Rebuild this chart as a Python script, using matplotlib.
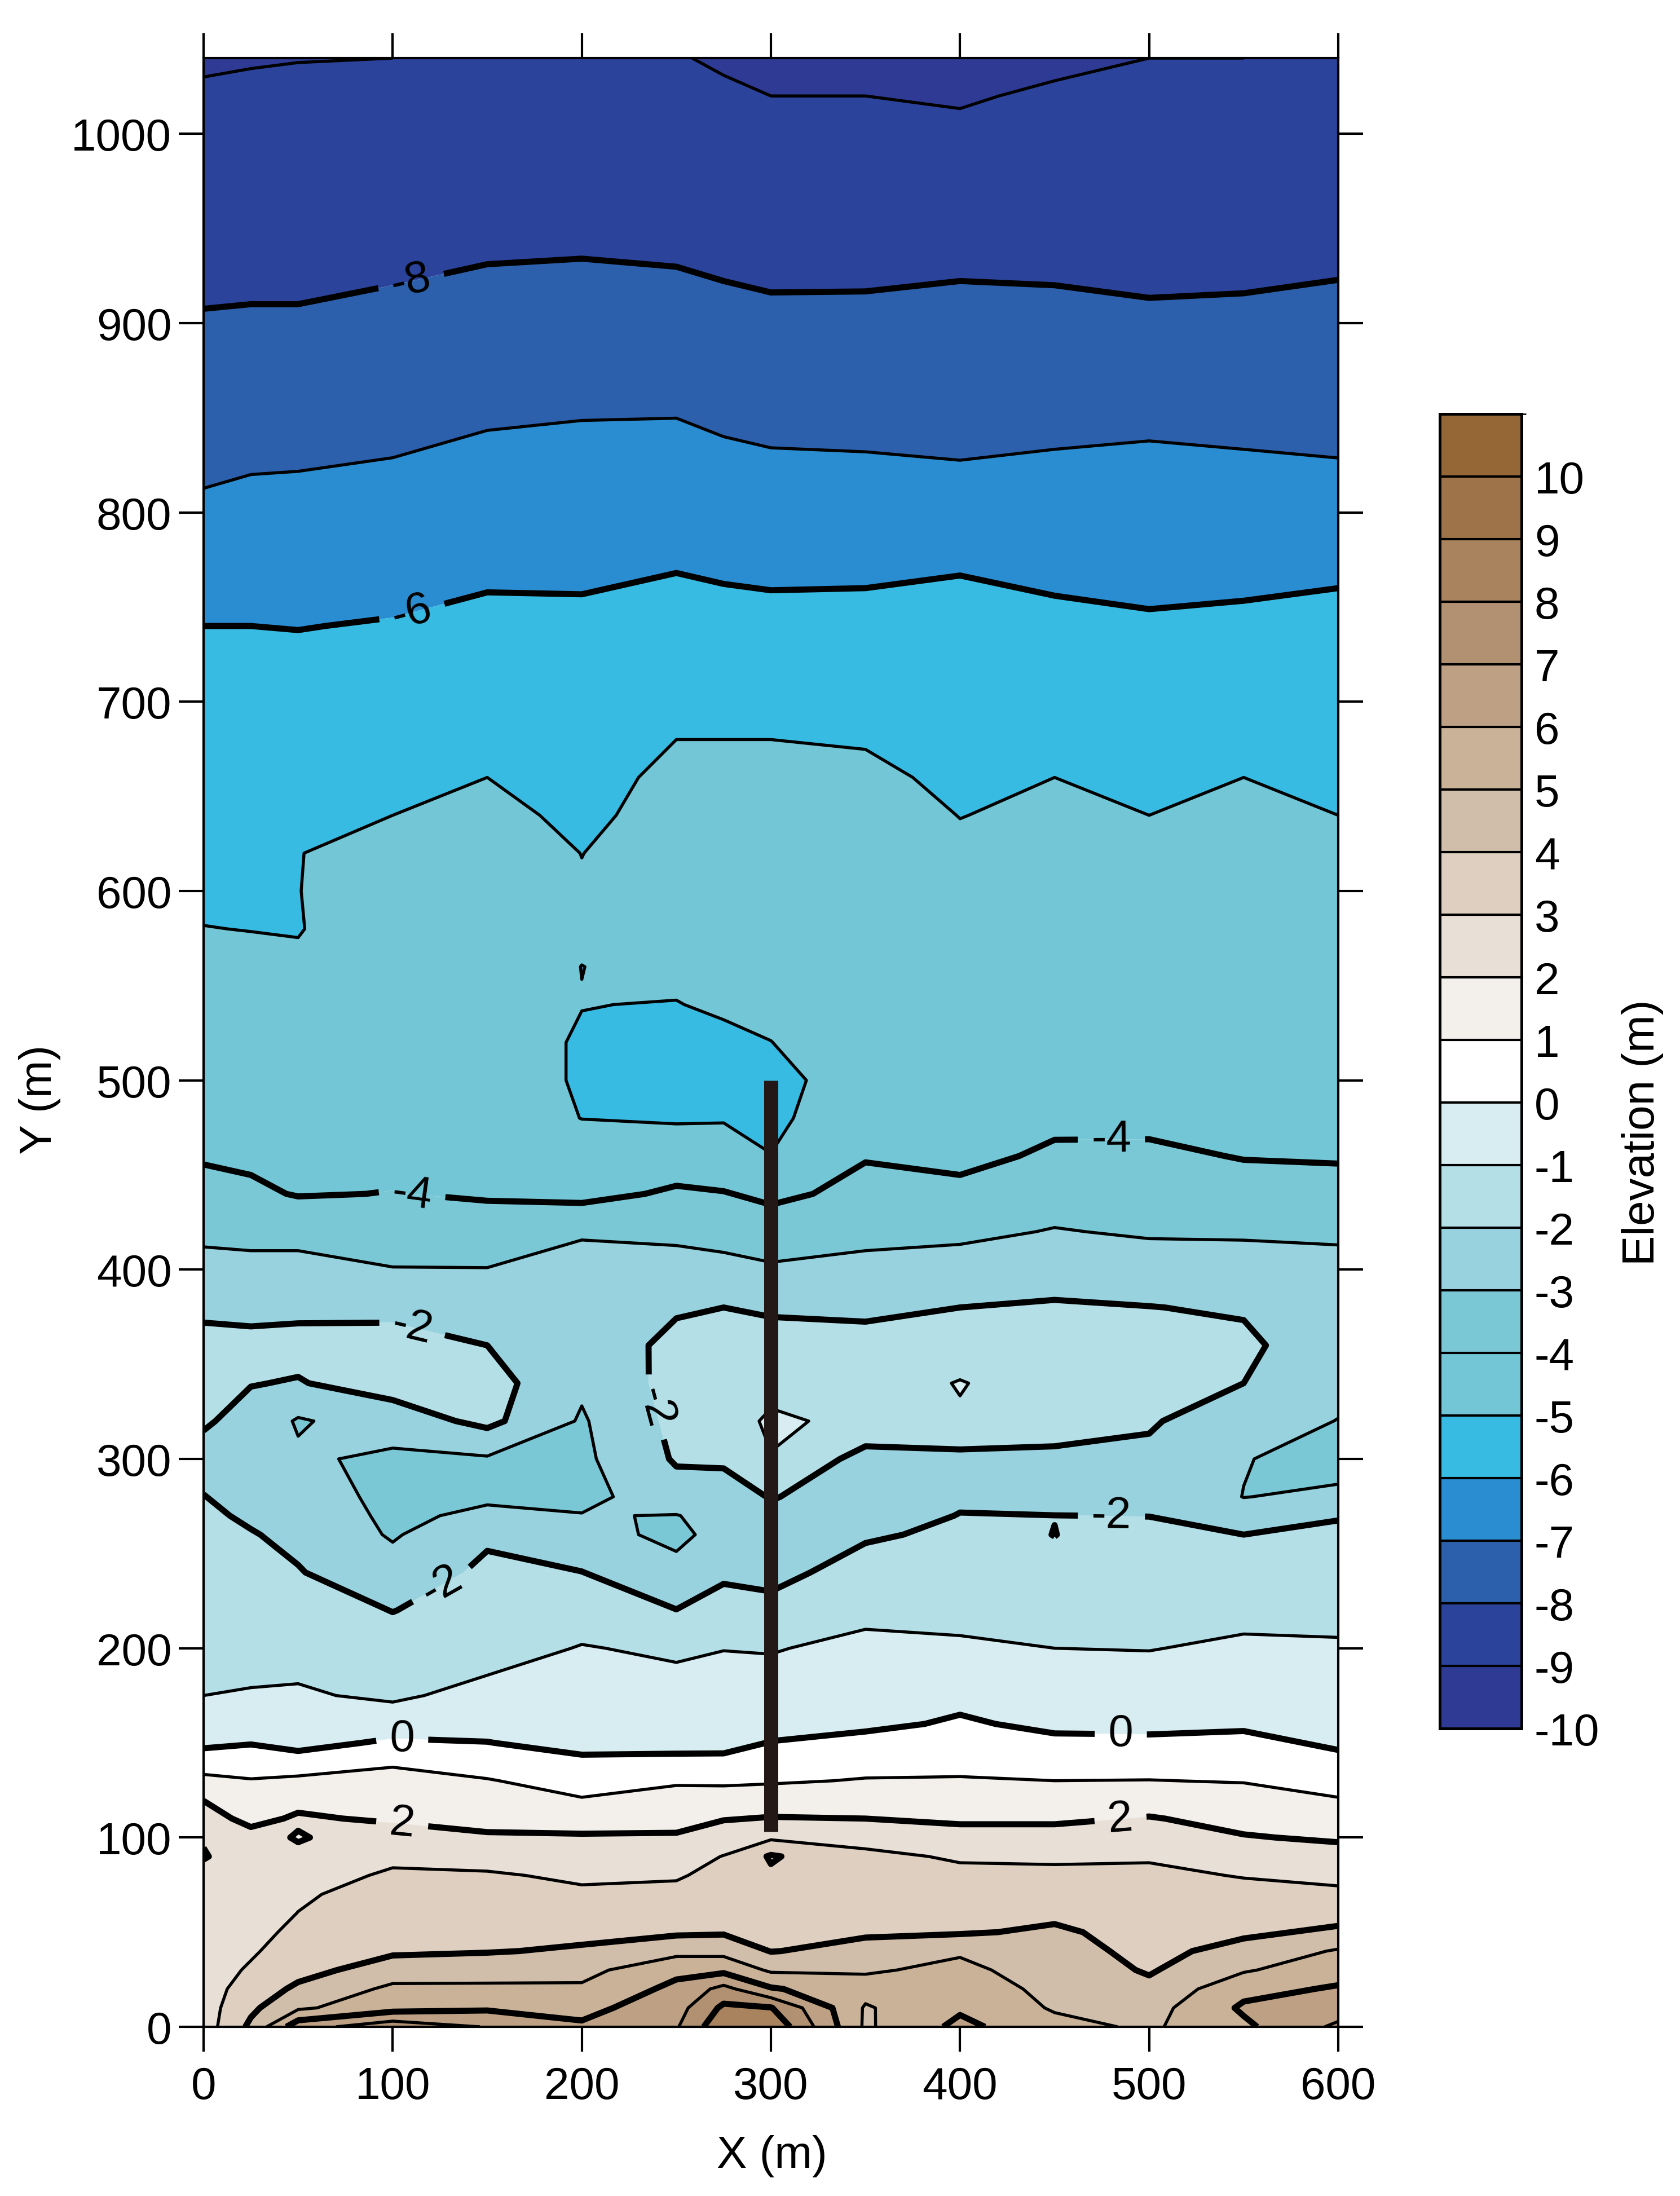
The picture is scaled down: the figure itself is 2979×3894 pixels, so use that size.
import numpy as np
import matplotlib
matplotlib.use("Agg")
import matplotlib.pyplot as plt
from matplotlib.colors import ListedColormap, BoundaryNorm

plt.rcParams['font.family'] = ['Liberation Sans', 'DejaVu Sans']
plt.rcParams['axes.unicode_minus'] = False

W, H = 2979, 3895
FS = 19.2

x_cols = [0, 25, 50, 100, 150, 200, 250, 275, 300, 350, 400, 450, 500, 550, 600]
y_rows = [0, 10, 20, 30, 40, 50, 60, 70, 80, 90, 100, 110, 120, 130, 140, 150, 160,
          175, 200, 220, 240, 260, 270, 280, 300, 320, 340, 360, 380, 400, 420, 440, 460,
          480, 500, 520, 540, 560, 580, 600, 620, 640, 660, 680, 700, 740, 780, 820, 860,
          900, 940, 980, 1020, 1040]

# Elevation (m) per column, listed along y_rows
z_x000 = [2.5, 2.55, 2.6, 2.6, 2.6, 2.6, 2.6, 2.5, 2.25, 1.95, 2.06, 2.3, 1.98, 1.25, 0.5, -0.2, -0.45,
          -1.0, -1.2, -1.4, -1.6, -1.75, -1.85, -1.98, -2.3, -1.9, -1.6, -1.7, -2.2, -2.7, -3.2, -3.65, -4.1,
          -4.25, -4.4, -4.5, -4.65, -4.8, -4.99, -5.1, -5.2, -5.3, -5.4, -5.5, -5.7, -6.0, -6.55, -7.1, -7.5,
          -7.93, -8.3, -8.6, -8.9, -9.1]
z_x025 = [4.2, 3.8, 3.4, 3.1, 2.9, 2.8, 2.7, 2.7, 2.6, 2.4, 2.25, 1.8, 1.6, 1.05, 0.55, -0.05, -0.4,
          -0.95, -1.25, -1.5, -1.72, -1.95, -2.12, -2.3, -2.55, -2.3, -1.97, -1.75, -2.25, -2.75, -3.25, -3.85, -4.15,
          -4.3, -4.45, -4.55, -4.7, -4.87, -5.01, -5.2, -5.3, -5.4, -5.5, -5.55, -5.7, -6.0, -6.5, -7.0, -7.45,
          -7.9, -8.3, -8.6, -8.87, -9.05]
z_x050 = [6.6, 4.85, 4.2, 3.65, 3.4, 3.15, 3.01, 2.9, 2.7, 2.15, 1.95, 2.09, 1.8, 1.2, 0.4, -0.3, -0.55,
          -0.9, -1.3, -1.55, -1.95, -2.2, -2.35, -2.45, -2.85, -3.1, -2.05, -1.75, -2.18, -2.7, -3.3, -4.05, -4.2,
          -4.35, -4.45, -4.55, -4.7, -4.9, -5.03, -5.01, -5.01, -5.25, -5.35, -5.45, -5.65, -6.02, -6.5, -6.98, -7.45,
          -7.9, -8.3, -8.6, -8.85, -9.02]
z_x100 = [7.6, 5.6, 5.2, 4.5, 3.85, 3.7, 3.5, 3.3, 3.1, 2.85, 2.35, 1.9, 1.6, 1.25, 0.9, 0.15, -0.5,
          -1.15, -1.6, -2.02, -2.6, -3.1, -3.2, -3.3, -3.2, -2.5, -1.6, -1.7, -2.2, -2.97, -3.4, -3.98, -4.2,
          -4.3, -4.35, -4.4, -4.5, -4.55, -4.6, -4.7, -4.85, -5.0, -5.2, -5.35, -5.5, -5.95, -6.4, -6.9, -7.35,
          -7.8, -8.2, -8.5, -8.8, -9.0]
z_x150 = [6.95, 5.85, 5.2, 4.55, 3.95, 3.75, 3.55, 3.3, 3.1, 2.65, 2.1, 1.75, 1.4, 1.05, 0.6, 0.02, -0.3,
          -0.7, -1.4, -1.6, -1.8, -2.15, -2.8, -3.15, -3.1, -1.75, -1.6, -2.0, -2.5, -2.97, -3.55, -4.1, -4.25,
          -4.6, -4.75, -4.75, -4.7, -4.65, -4.55, -4.45, -4.5, -4.75, -5.0, -5.2, -5.35, -5.8, -6.25, -6.72, -7.2,
          -7.65, -8.1, -8.4, -8.7, -8.85]
z_x200 = [6.15, 5.7, 5.15, 4.7, 4.1, 3.8, 3.5, 3.15, 2.85, 2.6, 2.1, 1.6, 1.05, 0.65, 0.15, -0.25, -0.4,
          -0.6, -0.95, -1.45, -1.98, -2.7, -2.95, -3.3, -3.2, -3.1, -2.85, -2.6, -2.7, -2.82, -3.05, -4.3, -4.6,
          -5.01, -5.05, -5.05, -4.99, -5.005, -4.9, -4.93, -5.01, -5.2, -5.3, -5.4, -5.5, -5.82, -6.25, -6.7, -7.12,
          -7.6, -8.07, -8.3, -8.55, -8.75]
z_x250 = [6.9, 6.6, 6.25, 5.75, 4.7, 3.85, 3.55, 3.25, 2.9, 2.6, 2.1, 1.7, 1.3, 0.9, 0.15, -0.2, -0.4,
          -0.65, -1.15, -1.98, -2.75, -3.2, -3.04, -2.4, -1.9, -1.75, -1.65, -1.75, -2.1, -2.65, -3.2, -3.85, -4.55,
          -5.08, -5.2, -5.15, -5.02, -4.85, -4.7, -4.6, -4.6, -4.65, -4.8, -5.0, -5.2, -5.65, -6.15, -6.65, -7.12,
          -7.65, -8.12, -8.45, -8.7, -8.95]
z_x275 = [8.8, 8.2, 7.3, 5.75, 4.7, 3.9, 3.75, 3.55, 3.3, 3.03, 2.5, 1.95, 1.4, 0.85, 0.2, -0.25, -0.4,
          -0.65, -1.02, -1.65, -2.15, -2.7, -2.6, -2.45, -1.85, -1.6, -1.5, -1.6, -2.0, -2.75, -3.3, -3.95, -4.65,
          -5.05, -5.3, -5.15, -4.9, -4.7, -4.6, -4.55, -4.55, -4.6, -4.8, -5.0, -5.25, -5.75, -6.2, -6.75, -7.25,
          -7.75, -8.2, -8.55, -8.88, -9.1]
z_x300 = [8.8, 8.05, 6.1, 4.85, 3.97, 3.85, 3.8, 3.8, 3.85, 4.1, 2.85, 2.05, 1.5, 0.9, 0.5, 0.03, -0.3,
          -0.65, -1.05, -1.75, -2.25, -2.5, -2.2, -1.95, -1.05, -0.8, -1.4, -1.7, -2.1, -2.88, -3.5, -4.2, -4.98,
          -5.25, -5.3, -5.01, -4.8, -4.7, -4.6, -4.5, -4.5, -4.6, -4.8, -5.0, -5.25, -5.75, -6.28, -6.82, -7.33,
          -7.83, -8.25, -8.6, -9.0, -9.2]
z_x350 = [4.85, 4.9, 5.35, 4.9, 4.25, 3.9, 3.75, 3.6, 3.45, 3.2, 2.7, 2.0, 1.55, 1.05, 0.7, 0.3, -0.2,
          -0.45, -0.8, -1.2, -1.65, -2.1, -2.3, -2.45, -2.35, -1.3, -1.5, -1.75, -2.15, -2.7, -3.3, -3.75, -4.05,
          -4.2, -4.5, -4.5, -4.45, -4.4, -4.35, -4.3, -4.3, -4.5, -4.8, -5.07, -5.3, -5.75, -6.25, -6.85, -7.35,
          -7.82, -8.25, -8.6, -9.0, -9.3]
z_x400 = [6.25, 5.85, 5.5, 5.2, 4.9, 3.9, 3.75, 3.5, 3.2, 2.9, 2.35, 1.85, 1.45, 1.07, 0.75, 0.45, 0.12,
          -0.25, -0.85, -1.3, -1.6, -1.85, -1.98, -2.1, -2.3, -1.1, -0.95, -1.5, -2.0, -2.6, -3.2, -3.75, -4.25,
          -4.4, -4.5, -4.5, -4.5, -4.5, -4.55, -4.65, -4.8, -5.02, -5.2, -5.3, -5.45, -5.7, -6.15, -6.93, -7.3,
          -7.75, -8.2, -8.65, -9.07, -9.25]
z_x450 = [5.3, 4.9, 4.75, 4.6, 4.35, 4.15, 3.8, 3.5, 3.2, 2.85, 2.35, 1.85, 1.45, 1.0, 0.6, 0.2, -0.2,
          -0.5, -1.0, -1.3, -1.9, -2.005, -1.995, -2.25, -2.2, -1.6, -1.5, -1.6, -1.9, -2.4, -2.95, -3.4, -3.85,
          -4.2, -4.4, -4.45, -4.45, -4.4, -4.4, -4.5, -4.6, -4.8, -5.0, -5.2, -5.4, -5.8, -6.3, -6.85, -7.3,
          -7.8, -8.2, -8.55, -8.9, -9.15]
z_x500 = [4.85, 4.6, 4.25, 3.9, 3.75, 3.65, 3.5, 3.35, 3.2, 2.9, 2.5, 2.05, 1.6, 1.02, 0.6, 0.2, -0.25,
          -0.5, -1.03, -1.3, -1.5, -1.8, -2.01, -2.1, -2.2, -1.9, -1.55, -1.65, -1.98, -2.55, -3.1, -3.45, -3.8,
          -4.25, -4.45, -4.45, -4.45, -4.45, -4.5, -4.6, -4.8, -5.0, -5.25, -5.45, -5.55, -5.9, -6.35, -6.8, -7.25,
          -7.9, -8.2, -8.5, -8.8, -9.0]
z_x550 = [5.8, 6.15, 5.7, 4.9, 4.3, 3.85, 3.6, 3.3, 2.95, 2.55, 2.05, 1.75, 1.4, 0.95, 0.6, 0.25, -0.15,
          -0.4, -0.85, -1.25, -1.6, -2.0, -2.55, -3.02, -2.95, -2.6, -2.0, -1.8, -2.1, -2.65, -3.1, -3.55, -4.05,
          -4.3, -4.4, -4.4, -4.4, -4.45, -4.5, -4.55, -4.65, -4.8, -5.0, -5.2, -5.4, -5.85, -6.3, -6.85, -7.3,
          -7.87, -8.2, -8.5, -8.85, -9.0]
z_x600 = [7.2, 6.5, 6.1, 5.6, 5.1, 4.15, 3.7, 3.2, 2.75, 2.3, 1.9, 1.5, 1.05, 0.65, 0.25, -0.15, -0.35,
          -0.55, -0.9, -1.25, -1.55, -1.85, -2.05, -2.8, -3.4, -3.02, -2.75, -2.65, -2.7, -2.85, -3.08, -3.6, -4.1,
          -4.3, -4.4, -4.4, -4.45, -4.5, -4.6, -4.7, -4.85, -5.0, -5.15, -5.3, -5.45, -5.8, -6.2, -6.93, -7.25,
          -7.8, -8.15, -8.45, -8.75, -8.98]

levels = list(range(-10, 12))
even_levels = [-8, -6, -4, -2, 0, 2, 4, 6, 8]
odd_levels = [-9, -7, -5, -3, -1, 1, 3, 5, 7, 9]
band_colors = ['#2E3A93', '#2B439A', '#2C60AC', '#2B8DD1', '#37BBE2', '#72C6D5', '#7AC8D6',
               '#97D2DE', '#B4DFE6', '#D8EDF2', '#FFFFFF', '#F3EFEB', '#E8DFD6', '#DECFC1',
               '#D1BEAA', '#CAB298', '#BEA184', '#B29172', '#A9835D', '#9E7349', '#956737']
label_positions = [(110, 921), (110, 748), (110, 438), (480, 470), (110, 368), (230, 325),
                   (125, 235), (480, 268), (105, 152), (485, 155), (105, 107), (485, 108)]
bar_x = [300, 300]
bar_y = [103, 500]

Z = np.column_stack([z_x000, z_x025, z_x050, z_x100, z_x150, z_x200, z_x250, z_x275,
                     z_x300, z_x350, z_x400, z_x450, z_x500, z_x550, z_x600])
X, Y = np.meshgrid(x_cols, y_rows)

fig = plt.figure(figsize=(W / 300, H / 300), dpi=300, facecolor='white')
ax = fig.add_axes([361 / W, 1 - 3595 / H, (2373 - 361) / W, (3595 - 104) / H])

cmap = ListedColormap(band_colors)
norm = BoundaryNorm(levels, cmap.N)
cf = ax.contourf(X, Y, Z, levels=levels, cmap=cmap, norm=norm, antialiased=True)
cs_thin = ax.contour(X, Y, Z, levels=odd_levels, colors='black', linewidths=1.3,
                     linestyles='solid', zorder=3)
cs_thick = ax.contour(X, Y, Z, levels=even_levels, colors='black', linewidths=2.6,
                      linestyles='solid', zorder=3)
ax.clabel(cs_thick, manual=label_positions, fmt='%d',
          fontsize=FS, colors='black', inline=True, inline_spacing=24)
ax.plot(bar_x, bar_y, color='#231815', lw=6.0, solid_capstyle='butt', zorder=4)

ax.set_xlim(0, 600)
ax.set_ylim(0, 1040)
ax.set_xticks(range(0, 601, 100))
ax.set_yticks(range(0, 1001, 100))
ax.tick_params(axis='both', which='major', direction='out', length=10.6, width=1.0,
               top=True, right=True, labelsize=FS)
ax.tick_params(axis='x', pad=6)
ax.tick_params(axis='y', pad=3)
for s in ax.spines.values():
    s.set_linewidth(1.0)
    s.set_zorder(6)

cax = fig.add_axes([2553 / W, 1 - 3066 / H, (2698 - 2553) / W, (3066 - 735) / H])
cbar = fig.colorbar(cf, cax=cax, spacing='proportional', drawedges=True)
cbar.set_ticks(list(range(-10, 11)))
cbar.set_ticklabels([str(v) for v in range(-10, 11)])
cbar.ax.tick_params(length=0, pad=5.5, labelsize=FS)
cbar.outline.set_linewidth(1.2)
cbar.dividers.set_linewidth(1.0)
cbar.dividers.set_color('black')

fig.text(1369 / W, 1 - 3824 / H, 'X (m)', ha='center', va='center', fontsize=FS)
fig.text(70 / W, 1 - 1950 / H, 'Y (m)', ha='center', va='center', rotation=90, fontsize=FS)
fig.text(2912 / W, 1 - 2008 / H, 'Elevation (m)', ha='center', va='center', rotation=90, fontsize=FS)

fig.savefig('out.png', dpi=300, facecolor='white')
